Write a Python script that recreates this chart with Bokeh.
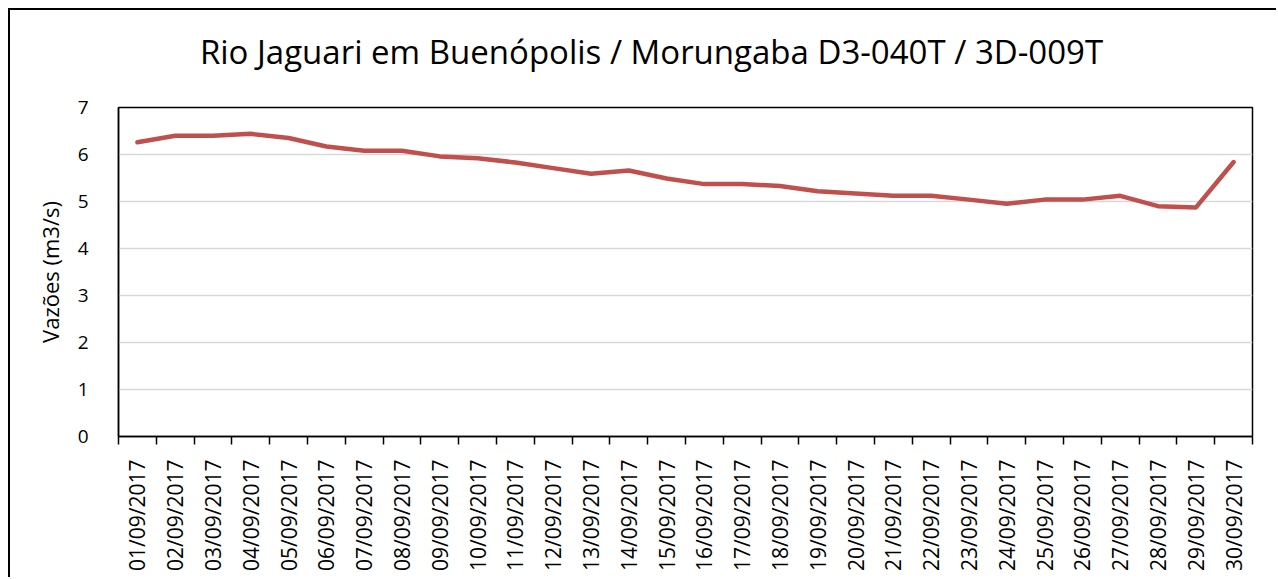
import math
from bokeh.plotting import figure
from bokeh.models import LinearAxis, FixedTicker, Range1d, Label
from bokeh.embed import file_html
from bokeh.resources import INLINE

dates = ["%02d/09/2017" % d for d in range(1, 31)]
vazoes = [6.26, 6.40, 6.40, 6.44, 6.35, 6.17, 6.08, 6.08, 5.96, 5.92,
          5.83, 5.71, 5.59, 5.66, 5.49, 5.37, 5.37, 5.33, 5.22, 5.17,
          5.12, 5.12, 5.04, 4.95, 5.04, 5.04, 5.12, 4.90, 4.87, 5.84]
y_ticks = [0, 1, 2, 3, 4, 5, 6, 7]
title_text = "Rio Jaguari em Buenópolis / Morungaba D3-040T / 3D-009T"
y_label = "Vazões (m3/s)"

FONT = "Open Sans"
n = len(dates)
xc = [float(i) + 0.5 for i in range(n)]
bounds = list(range(n + 1))

p = figure(width=1268, height=569, output_backend="svg", toolbar_location=None,
           x_range=Range1d(0, n), y_range=Range1d(0, 7),
           min_border_left=108, min_border_right=26, min_border_top=97,
           min_border_bottom=143)
p.styles = {"margin-left": "8px", "margin-top": "8px",
            "border-left": "2px solid black", "border-top": "2px solid black"}

# chart title in the top side panel (screen units from panel bottom-left)
p.add_layout(Label(x=533, y=56, x_units="screen", y_units="screen",
                   text=title_text, text_align="center", text_baseline="alphabetic",
                   text_font=FONT, text_font_size="33px", text_color="black"), "above")

p.outline_line_color = "black"
p.outline_line_width = 1.5
p.xgrid.visible = False
p.ygrid.grid_line_color = "#D9D9D9"
p.ygrid.grid_line_width = 1.5

# y axis
ya = p.yaxis[0]
ya.ticker = FixedTicker(ticks=y_ticks)
ya.major_tick_line_color = None
ya.minor_tick_line_color = None
ya.axis_line_color = "black"
ya.axis_line_width = 1.5
ya.major_label_text_font = FONT
ya.major_label_text_font_size = "19px"
ya.major_label_text_color = "black"
ya.major_label_standoff = 24
ya.axis_label = y_label
ya.axis_label_text_font = FONT
ya.axis_label_text_font_size = "22px"
ya.axis_label_text_font_style = "normal"
ya.axis_label_text_color = "black"
ya.axis_label_standoff = 10

# x axis: ticks at category boundaries, no labels
xa = p.xaxis[0]
xa.ticker = FixedTicker(ticks=bounds)
xa.major_label_overrides = {b: "" for b in bounds}
xa.major_tick_in = 0
xa.major_tick_out = 8
xa.major_tick_line_color = "black"
xa.major_tick_line_width = 1.5
xa.minor_tick_line_color = None
xa.axis_line_color = "black"
xa.axis_line_width = 1.5
xa.major_label_standoff = 0

# x labels at category centres
xl = LinearAxis(ticker=FixedTicker(ticks=xc),
                major_label_overrides={xc[i]: dates[i] for i in range(n)})
xl.axis_line_color = None
xl.major_tick_line_color = None
xl.minor_tick_line_color = None
xl.major_label_orientation = math.pi / 2
xl.major_label_text_font = FONT
xl.major_label_text_font_size = "21px"
xl.major_label_text_color = "black"
xl.major_label_standoff = 9
p.add_layout(xl, "below")

p.line(xc, vazoes, line_color="#C0504D", line_width=4.5, line_join="round", line_cap="round")

open("out.html", "w").write(file_html(p, INLINE))
